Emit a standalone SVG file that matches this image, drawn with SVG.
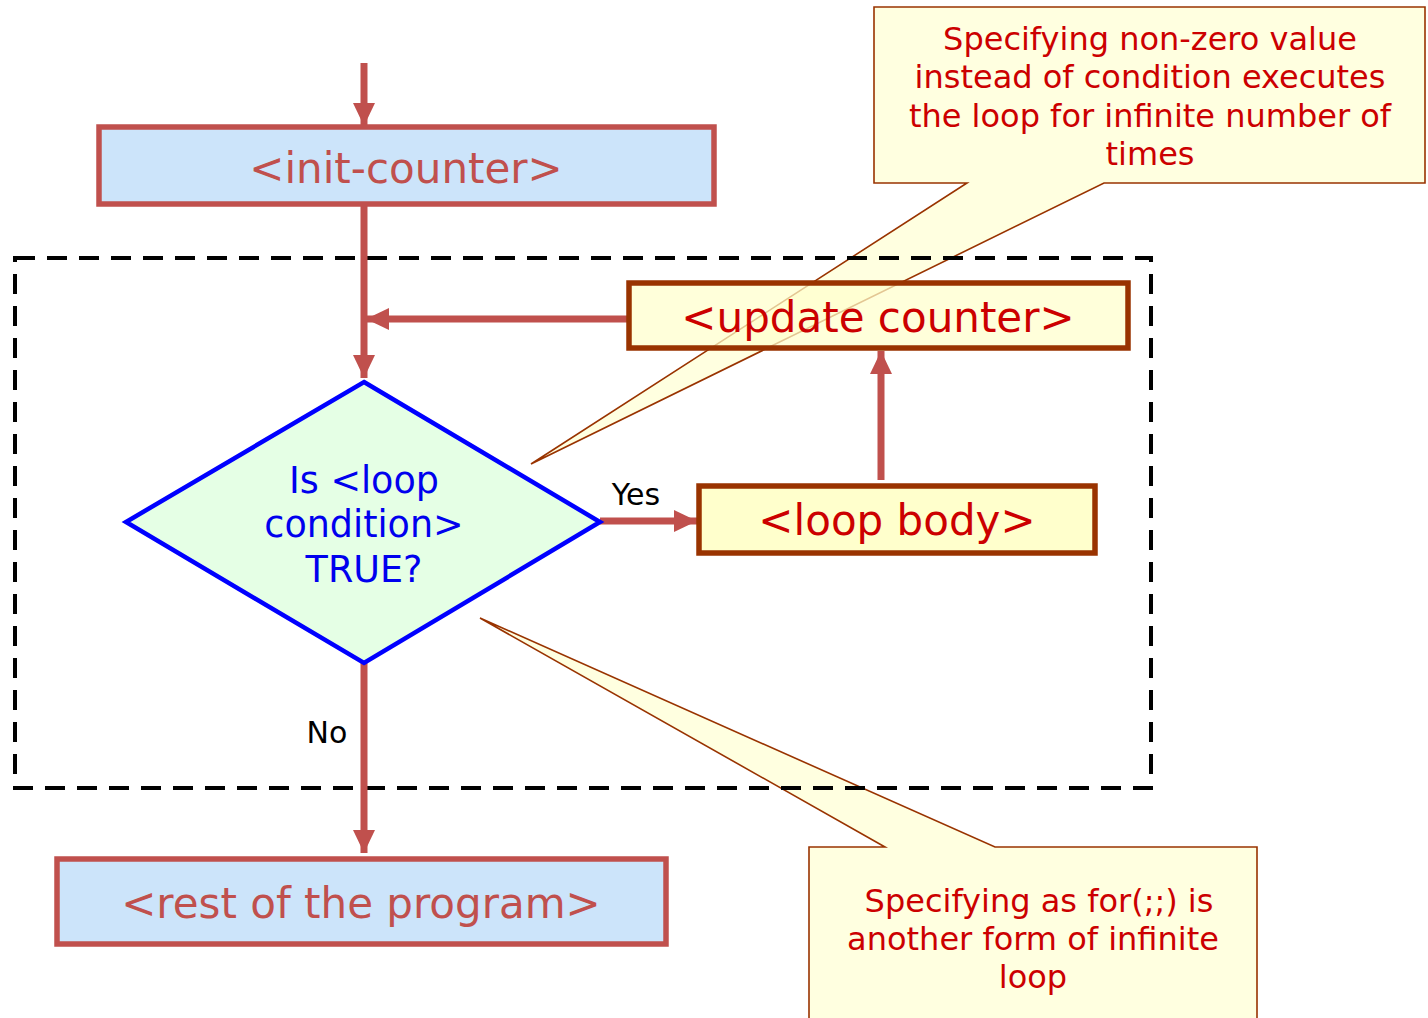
<svg xmlns="http://www.w3.org/2000/svg" width="1428" height="1018" viewBox="0 0 1428 1018">
  <defs>
    <style>
      text { font-family: "DejaVu Sans", Verdana, sans-serif; text-anchor: middle; }
      .blue-box { fill: #CCE4FA; stroke: #C0504D; stroke-width: 5.5; }
      .blue-box-text { fill: #C0504D; font-size: 42px; }
      .yellow-box { fill: #FFFFCC; fill-opacity: 0.72; stroke: #993300; stroke-width: 5.5; }
      .yellow-box-text { fill: #CC0000; font-size: 42px; }
      .flow { stroke: #C0504D; stroke-width: 7; fill: none; }
      .label { fill: #000000; font-size: 30px; }
      .note { fill: #FFFFE0; stroke: #993300; stroke-width: 1.6; stroke-linejoin: miter; }
      .note-text { fill: #CC0000; font-size: 32px; }
    </style>
    <marker id="arrow" viewBox="0 0 23 22" refX="23" refY="11" markerWidth="23" markerHeight="22" markerUnits="userSpaceOnUse" orient="auto">
      <path d="M0,0 L23,11 L0,22 z" fill="#C0504D"/>
    </marker>
  </defs>

  <rect width="1428" height="1018" fill="#FFFFFF"/>

  <!-- callout notes, sitting beneath the flowchart -->
  <g id="note-nonzero">
    <path class="note" d="M874,7 H1425 V183 H1104 L531,464 L967,183 H874 Z"/>
    <text class="note-text" x="1150" y="50">Specifying non-zero value</text>
    <text class="note-text" x="1150" y="88">instead of condition executes</text>
    <text class="note-text" x="1150" y="127">the loop for infinite number of</text>
    <text class="note-text" x="1150" y="165">times</text>
  </g>

  <g id="note-for">
    <path class="note" d="M809,847 H885 L480,618 L995,847 H1257 V1030 H809 Z"/>
    <text class="note-text" x="1039" y="912">Specifying as for(;;) is</text>
    <text class="note-text" x="1033" y="950">another form of infinite</text>
    <text class="note-text" x="1033" y="988">loop</text>
  </g>

  <!-- loop boundary -->
  <rect id="loop-region" x="15" y="258" width="1136" height="530" fill="none" stroke="#000000" stroke-width="4" stroke-dasharray="20 12"/>

  <!-- connectors -->
  <g id="connectors">
    <line class="flow" x1="364" y1="63" x2="364" y2="126" marker-end="url(#arrow)"/>
    <line class="flow" x1="364" y1="204" x2="364" y2="378" marker-end="url(#arrow)"/>
    <line class="flow" x1="629" y1="319" x2="366" y2="319" marker-end="url(#arrow)"/>
    <line class="flow" x1="600" y1="521" x2="697" y2="521" marker-end="url(#arrow)"/>
    <line class="flow" x1="881" y1="480" x2="881" y2="351" marker-end="url(#arrow)"/>
    <line class="flow" x1="364" y1="663" x2="364" y2="853" marker-end="url(#arrow)"/>
    <text class="label" x="636" y="505">Yes</text>
    <text class="label" x="327" y="743">No</text>
  </g>

  <g id="init-counter">
    <rect class="blue-box" x="99" y="127" width="615" height="77"/>
    <text class="blue-box-text" x="406" y="183">&lt;init-counter&gt;</text>
  </g>

  <g id="update-counter">
    <rect class="yellow-box" x="629" y="283" width="499" height="65"/>
    <text class="yellow-box-text" x="878" y="332">&lt;update counter&gt;</text>
  </g>

  <g id="condition">
    <polygon points="364,382 600,522 364,663 126,522" fill="#E5FFE5" stroke="#0000FF" stroke-width="4.5" stroke-linejoin="miter"/>
    <text x="364" y="493" fill="#0000EE" font-size="36.5">Is &lt;loop</text>
    <text x="364" y="537" fill="#0000EE" font-size="36.5">condition&gt;</text>
    <text x="364" y="582" fill="#0000EE" font-size="36.5">TRUE?</text>
  </g>

  <g id="loop-body">
    <rect class="yellow-box" x="699" y="486" width="396" height="67" style="fill-opacity:1"/>
    <text class="yellow-box-text" x="897" y="535">&lt;loop body&gt;</text>
  </g>

  <g id="rest-of-program">
    <rect class="blue-box" x="57" y="859" width="609" height="85"/>
    <text class="blue-box-text" x="361" y="918">&lt;rest of the program&gt;</text>
  </g>
</svg>
